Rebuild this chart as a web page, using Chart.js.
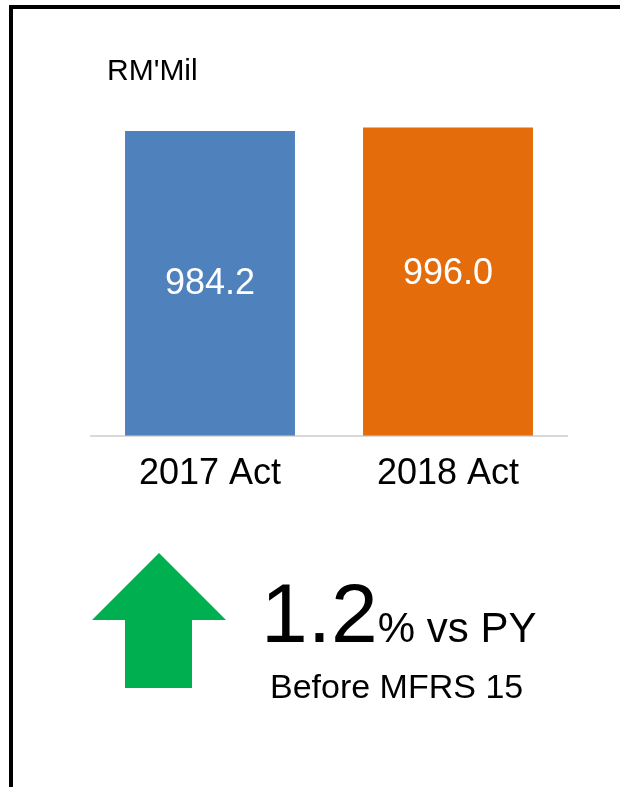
<!DOCTYPE html>
<html>
<head>
<meta charset="utf-8">
<script src="https://cdn.jsdelivr.net/npm/chart.js@4"></script>
<style>
  html, body { margin: 0; padding: 0; background: #fff; }
  body { width: 620px; height: 787px; position: relative; overflow: hidden; font-family: "Liberation Sans", Arial, sans-serif; }
  #frame { position: absolute; left: 9px; top: 5px; right: -10px; bottom: -10px; border-left: 4px solid #000; border-top: 4px solid #000; }
  #wrap { position: absolute; left: 0; top: 0; width: 620px; height: 787px; }
  .txt { position: absolute; color: #000; white-space: nowrap; }
</style>
</head>
<body>
<div id="frame"></div>
<div id="wrap"><canvas id="myChart"></canvas></div>
<div class="txt" style="left:107px; top:55px; font-size:30px; line-height:30px;">RM'Mil</div>
<svg style="position:absolute; left:0; top:0;" width="620" height="787">
  <polygon points="159,553 226,620 192,620 192,688 125,688 125,620 92,620" fill="#00B050"/>
</svg>
<div class="txt" style="left:261px; top:571px; font-size:84px; line-height:84px;">1.2<span style="font-size:42px;">% vs PY</span></div>
<div class="txt" style="left:270px; top:669px; font-size:34px; line-height:34px;">Before MFRS 15</div>
<script>
const categories = ['2017 Act', '2018 Act'];
const revenue = [984.2, 996.0];
const barColors = ['#4F81BD', '#E46C0A'];

// value labels inside the bars
const barLabels = {
  id: 'barLabels',
  afterDatasetsDraw(chart) {
    const ctx = chart.ctx;
    const meta = chart.getDatasetMeta(0);
    const nudge = [1, -8];
    ctx.save();
    ctx.fillStyle = '#fff';
    ctx.font = '36px "Liberation Sans", Arial, sans-serif';
    ctx.textAlign = 'center';
    ctx.textBaseline = 'middle';
    meta.data.forEach((bar, i) => {
      const y = (bar.y + bar.base) / 2 + nudge[i];
      ctx.fillText(revenue[i].toFixed(1), bar.x, y);
    });
    ctx.restore();
  }
};

function myChart(){
  const ctx = document.getElementById('myChart');
  new Chart(ctx, {
    type: 'bar',
    data: {
      labels: categories,
      datasets: [{
        data: revenue,
        backgroundColor: barColors,
        borderWidth: 0,
        categoryPercentage: 1,
        barPercentage: 0.714
      }]
    },
    options: {
      responsive: true,
      maintainAspectRatio: false,
      animation: false,
      layout: { padding: { left: 91, right: 53, top: 120, bottom: 274 } },
      plugins: {
        legend: { display: false },
        tooltip: { enabled: false }
      },
      scales: {
        y: { display: false, min: 0, max: 1020 },
        x: {
          grid: { display: false, drawTicks: false },
          border: { display: true, color: '#D9D9D9', width: 2 },
          ticks: {
            color: '#000',
            padding: 17,
            font: { family: '"Liberation Sans", Arial, sans-serif', size: 36 }
          }
        }
      }
    },
    plugins: [barLabels]
  });
}

myChart()
</script>
</body>
</html>
